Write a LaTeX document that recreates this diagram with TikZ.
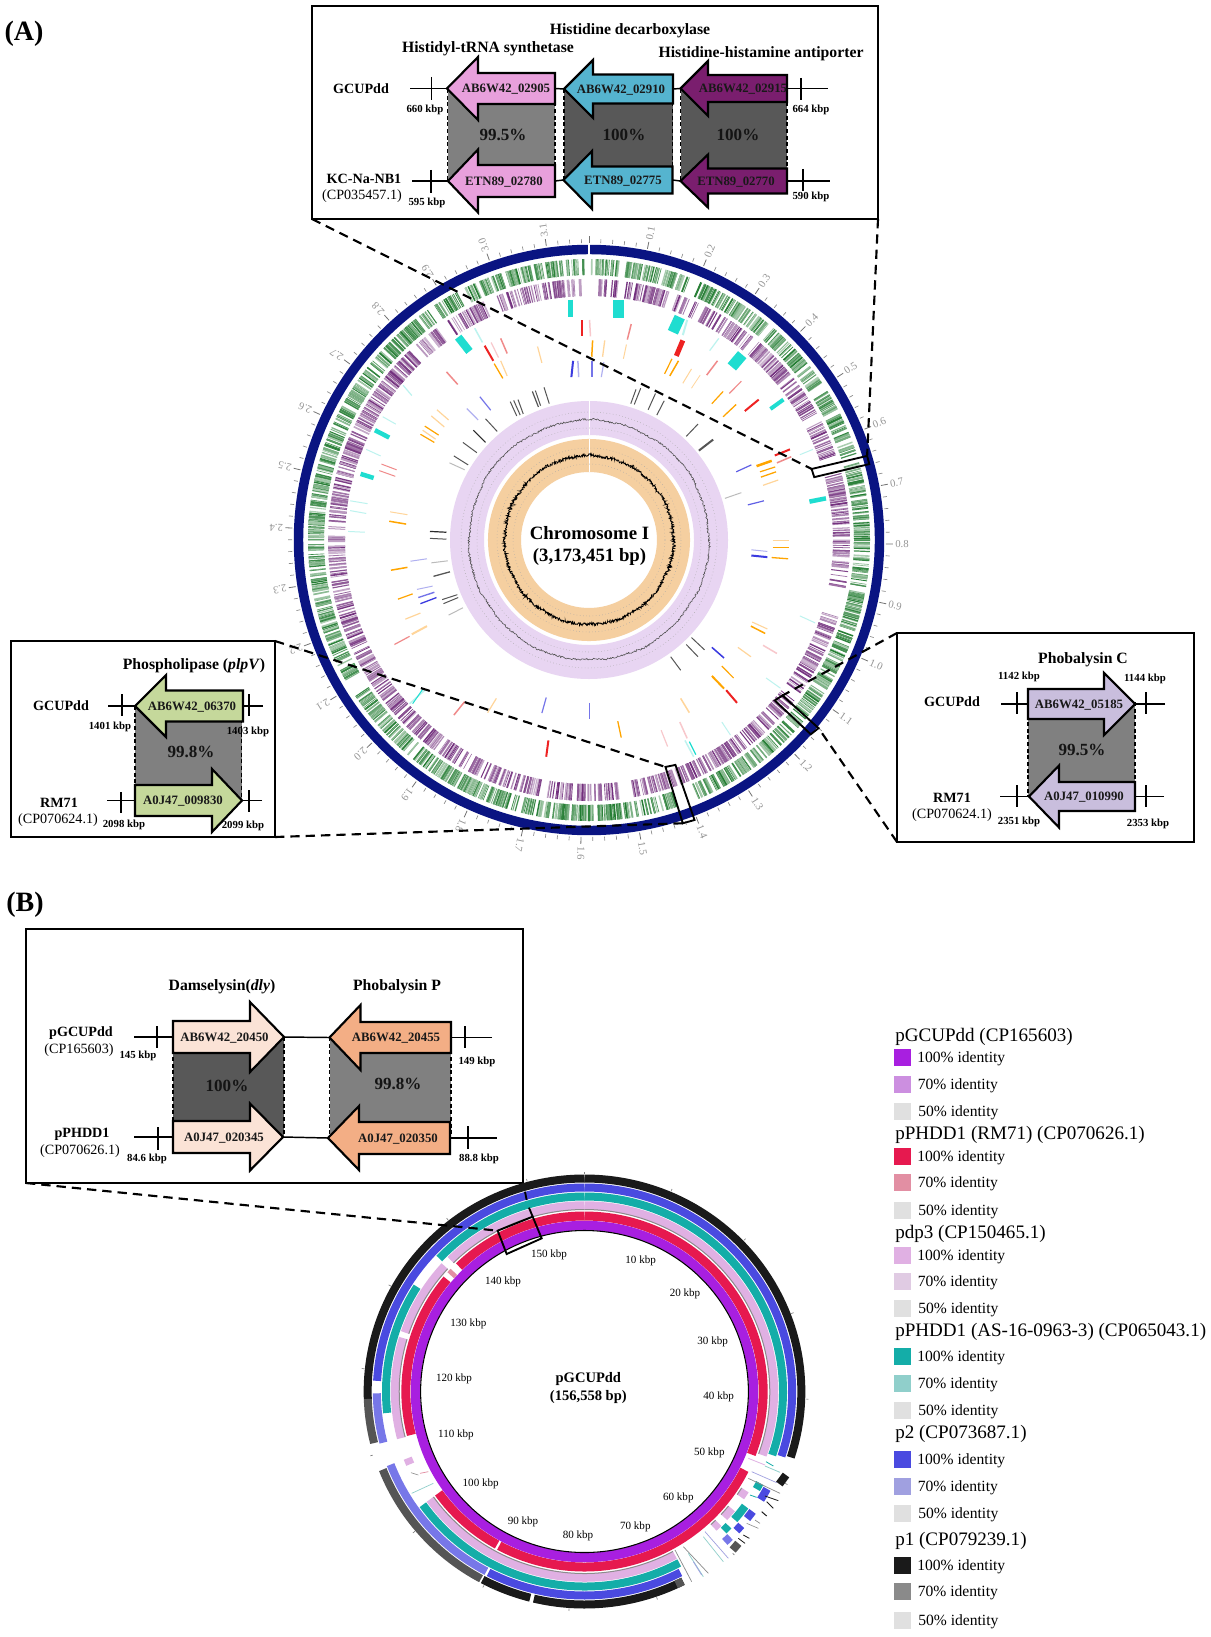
\documentclass[tikz,border=0pt]{standalone}
\usepackage{fontspec}
\setmainfont{Liberation Serif}
\definecolor{navy}{HTML}{0A1482}
\definecolor{gtrk}{HTML}{1F7A2E}
\definecolor{ptrk}{HTML}{6F2A7A}
\definecolor{cyn}{HTML}{1FDDD0}
\definecolor{pcyn}{HTML}{BDF3EF}
\definecolor{rd}{HTML}{EE2222}
\definecolor{prd}{HTML}{F08A8A}
\definecolor{ppk}{HTML}{F8C8CC}
\definecolor{org}{HTML}{FFA500}
\definecolor{porg}{HTML}{FFD59A}
\definecolor{blu}{HTML}{3A3AE0}
\definecolor{pblu}{HTML}{B0B0F0}
\definecolor{gry}{HTML}{555555}
\definecolor{pgry}{HTML}{BBBBBB}
\definecolor{dgry}{HTML}{2A2A2A}
\definecolor{lilac}{HTML}{E8D5F2}
\definecolor{orng}{HTML}{F5CFA0}
\definecolor{gnPink}{HTML}{E8A0DC}
\definecolor{gnBlue}{HTML}{55B4CF}
\definecolor{gnPurp}{HTML}{7A1E6E}
\definecolor{gnGreen}{HTML}{C5D89B}
\definecolor{gnLav}{HTML}{C9BEDD}
\definecolor{gnPeach}{HTML}{FBE3D6}
\definecolor{gnOrange}{HTML}{F3AE85}
\definecolor{shLight}{HTML}{808080}
\definecolor{shDark}{HTML}{585858}
\definecolor{rPurple}{HTML}{A81FE0}
\definecolor{rPurple2}{HTML}{CC8FE0}
\definecolor{rRed}{HTML}{E6194F}
\definecolor{rRed2}{HTML}{E28FA3}
\definecolor{rPink}{HTML}{E0B0E3}
\definecolor{rPink2}{HTML}{E0CBE3}
\definecolor{rTeal}{HTML}{14ADA8}
\definecolor{rTeal2}{HTML}{90CFCB}
\definecolor{rBlue}{HTML}{4A4AE0}
\definecolor{rBlue2}{HTML}{A0A0E0}
\definecolor{rBlack}{HTML}{1A1A1A}
\definecolor{rBlack2}{HTML}{8A8A8A}
\definecolor{rGrey}{HTML}{E0E0E0}
\tikzset{
  ttl/.style={font=\bfseries\fontsize{11.8}{13}\selectfont,inner sep=0pt},
  gl/.style={font=\bfseries\fontsize{9.6}{11}\selectfont,inner sep=0pt,text=black!90},
  kb/.style={font=\bfseries\fontsize{8.1}{9}\selectfont,inner sep=0pt},
  sp/.style={font=\bfseries\fontsize{10.6}{12}\selectfont,inner sep=0pt},
  acc/.style={font=\fontsize{10.6}{12}\selectfont,inner sep=0pt},
  pct/.style={font=\bfseries\fontsize{12.8}{14}\selectfont,inner sep=0pt,text=black!92},
  ibox/.style={draw=black,line width=1.1pt,fill=white,inner sep=0pt,outer sep=0pt},
  bone/.style={draw=black,line width=1.1pt},
  genear/.style={draw=black,line width=1.6pt,line join=miter,miter limit=8},
  leader/.style={draw=black,line width=1.6pt,dash pattern=on 7pt off 4.5pt},
  marker/.style={draw=black,line width=1.4pt},
  leghead/.style={font=\fontsize{14.3}{16}\selectfont,inner sep=0pt,anchor=west},
  legid/.style={font=\fontsize{11.7}{13}\selectfont,inner sep=0pt,anchor=west},
  ringlab/.style={font=\fontsize{8.3}{10}\selectfont,inner sep=0pt},
  mb/.style={font=\fontsize{8}{9}\selectfont,inner sep=0pt,text=black!42}
}
% gene arrow: name, tail x, tip x, head base x, centre y, body half, head half, fill, label x
\newcommand\gene[9]{%
  \coordinate (#1-tail) at (#2,#5);
  \coordinate (#1-tip) at (#3,#5);
  \draw[genear,fill=#8] (#2,#5-#6) -- (#4,#5-#6) -- (#4,#5-#7) -- (#3,#5) -- (#4,#5+#7) -- (#4,#5+#6) -- (#2,#5+#6) -- cycle;
  \node[gl] (#1) at (#9,#5+1) {\genelabel};}
\newcommand\genelabel{}
\newcommand\shadebox[5]{%
  \fill[#5] (#1,#2) rectangle (#3,#4);
  \draw[black,line width=0.9pt,dash pattern=on 3pt off 2pt] (#1,#2) -- (#1,#4) (#3,#2) -- (#3,#4);}
\newcommand\stub[4]{\coordinate (#1) at (#2,#3); \draw[bone] (#1) -- (#4);}
\newcommand\vtick[3]{\draw[bone] (#1,#2) -- (#1,#3);}
\newcommand\arcring[5]{\draw[#3,line width=#2*0.75pt] (#4-90:#1) arc[start angle={#4-90},end angle={#5-90},radius=#1];}
\newcommand\randtrack[5]{% Rin Rout colour density list
  \foreach \s/\e in {#5}{
    \pgfmathtruncatemacro\nn{max(1,(\e-\s)*#4)}
    \foreach \k in {1,...,\nn}{
      \pgfmathsetmacro\aa{\s+rnd*(\e-\s)-90}
      \pgfmathtruncatemacro\pp{35+65*rnd}
      \pgfmathsetmacro\ww{0.4+0.95*rnd}
      \draw[#3!\pp!white,line width=\ww pt] (\aa:#1) -- (\aa:#2);
    }
  }}
\begin{document}
\begin{tikzpicture}[x=0.75pt,y=-0.75pt]
\useasboundingbox (0,0) rectangle (1210,1637);
\fill[white] (0,0) rectangle (1210,1637);
\node[font=\bfseries\fontsize{21}{24}\selectfont,inner sep=0pt] (labA) at (24,33.5) {(A)};
\node[font=\bfseries\fontsize{21}{24}\selectfont,inner sep=0pt] (labB) at (25,905) {(B)};

%% ===== chromosome map =====
\begin{scope}[shift={(589,540)}]
  \pgfmathsetseed{4242}
  % axis ticks and labels
  \foreach \i in {0,...,158}{
    \pgfmathsetmacro\th{\i*0.02*113.44-90}
    \pgfmathtruncatemacro\mj{mod(\i,5)==0}
    \ifnum\mj=1 \draw[black!55,line width=0.6pt] (\th:297) -- (\th:304);
    \else \draw[black!45,line width=0.5pt] (\th:297) -- (\th:301); \fi
  }
  \foreach \m in {1,...,31}{
    \pgfmathsetmacro\th{\m*11.344}
    \pgfmathtruncatemacro\uu{int(\m/10)}
    \pgfmathtruncatemacro\vv{mod(\m,10)}
    \node[mb,rotate={90-\th}] (tl\m) at (\th-90:313) {\uu.\vv};
  }
  \draw[navy,line width=7.1pt] (0,0) circle[radius=290.5];
  \draw[white,line width=1pt] (-90:285) -- (-90:296);
  % gene tracks
  \randtrack{265}{281}{gtrk}{4.4}{337/359,0.3/6.2,7.8/21,23/40,41/56,58/72.5,74/100,100.5/132,133/157,161/194,195/236.5,240/263,263.5/325,326.5/332,333.5/336}
  \randtrack{244}{261}{ptrk}{3.4}{339/358.5,2/6.6,8.3/18.4,19.5/23,24/25,26/39,40.5/61,63/71,75/100.5,107/170,173/250,250.5/325,327/336}
  % inner rings
  \draw[lilac,line width=25.5pt] (0,0) circle[radius=122];
  \draw[orng,line width=24.8pt] (0,0) circle[radius=84.5];
  \draw[white,line width=0.7pt] (-90:105) -- (-90:139) (-90:68) -- (-90:101);
  \foreach \r in {112,120,128}{\draw[black!35,line width=0.4pt,dotted] (0,0) circle[radius=\r];}
  \foreach \r in {76,84,92}{\draw[black!35,line width=0.4pt,dotted] (0,0) circle[radius=\r];}
  \pgfmathsetseed{77}
  \draw[black!70,line width=0.4pt] plot[domain=0:360,samples=800,variable=\t] (\t:{120+1.0*rand+0.5*sin(7*\t)+0.4*sin(19*\t)}) -- cycle;
  \draw[black,line width=0.55pt] plot[domain=0:360,samples=1100,variable=\t] (\t:{84.5+1.5*rand+0.3*sin(11*\t)+0.3*sin(23*\t)}) -- cycle;
\end{scope}

%% discrete features, in crop coordinates
\begin{scope}[shift={(260,220)},x=0.32524pt,y=-0.30612pt]
  \foreach \a/\b/\cc/\d/\w/\col in {
    717/195/717/237/5/cyn, 827/197/827/240/11/cyn, 968/238/952/275/11/cyn, 1112/330/1088/360/11/cyn,
    1207/440/1177/463/4/cyn, 1305/682/1267/690/4.5/cyn, 232/622/262/632/4.5/cyn, 265/515/298/533/4.5/cyn, 457/287/483/322/8/cyn,
    495/265/513/300/1.5/pcyn, 350/430/330/405/1.2/pcyn, 283/482/313/500/1/pcyn, 245/562/278/578/1/pcyn, 208/688/248/695/1/pcyn,
    208/712/245/719/1/pcyn, 203/763/242/765/1/pcyn, 1058/290/1037/320/1.2/pcyn, 985/245/975/282/2/pcyn, 1245/970/1280/987/1/pcyn,
    1167/1122/1200/1147/1/pcyn, 1065/1230/1085/1262/1/pcyn, 980/1275/1000/1315/1.5/pcyn, 990/1278/1005/1310/1.2/cyn,
    345/1185/380/1152/1.5/pcyn, 352/1185/375/1150/1/cyn, 1245/575/1275/562/1/pcyn,
    743/245/743/285/2/rd, 760/245/762/285/1.5/ppk, 856/255/847/293/1.5/prd, 975/295/960/333/5/rd, 555/290/570/327/1.5/prd,
    533/300/550/337/1.2/ppk, 518/308/538/345/2/rd, 430/372/456/403/1.5/prd, 1055/345/1030/380/1.5/prd, 1110/395/1082/425/1.2/prd,
    1150/440/1118/468/2/rd, 280/598/315/612/1/prd, 275/614/312/628/1/prd, 1222/562/1187/577/2/rd, 1225/580/1192/595/1.5/prd,
    1160/1042/1192/1062/1.5/ppk, 1075/1152/1100/1183/2/rd, 968/1230/985/1270/1.5/ppk, 925/1250/940/1290/1.2/ppk, 665/1275/660/1315/2/rd,
    472/1180/447/1213/1.5/prd, 345/1020/310/1040/1.2/prd,
    767/295/765/335/1.5/org, 795/295/790/335/1.3/porg, 845/305/838/340/1/porg, 640/310/650/350/1.2/porg, 950/340/933/377/1.2/org,
    965/345/945/382/1.5/org, 995/365/975/400/1/porg, 1015/380/995/412/0.8/porg, 1068/420/1042/450/1.2/org, 1098/452/1068/482/1.3/org,
    555/345/570/382/1.2/porg, 540/352/560/388/1.3/org, 408/465/435/490/1.2/porg, 395/480/425/507/1.2/porg, 380/505/412/527/1.2/org,
    375/515/405/537/1.2/porg, 370/525/402/545/1.2/org, 300/715/340/722/1/porg, 298/738/337/745/1.5/org, 1180/590/1145/603/2.5/org,
    1188/605/1153/617/1.2/org, 1190/617/1155/630/1.3/org, 1195/637/1160/650/1.2/porg, 1182/786/1220/786/1.2/porg, 1182/803/1220/803/1.3/org,
    1180/827/1218/830/1.3/org, 302/858/340/851/1.5/org, 318/929/352/916/1.2/org, 335/978/370/963/1.2/porg, 350/1015/385/995/2/porg,
    1135/985/1170/1002/1.1/porg, 1132/995/1165/1013/1.5/org, 1102/1047/1132/1070/1.2/porg, 1065/1093/1092/1122/1.2/org, 1042/1117/1070/1148/2/org,
    970/1172/990/1207/1.5/porg, 825/1228/833/1268/1.3/org, 545/1172/525/1207/1.2/porg,
    722/345/718/385/2/blu, 733/345/735/385/1.5/pblu, 765/345/765/385/1.5/blu!70!white, 793/348/787/385/1.2/pblu, 507/433/532/466/1.2/blu!70!white,
    477/462/503/490/1.2/pblu, 1133/600/1098/617/1.2/blu!80!white, 1162/688/1125/698/1.2/blu!80!white, 1133/808/1170/812/1/pblu, 1133/822/1170/826/2/blu,
    347/836/385/830/1/pblu, 362/905/398/897/1/pblu, 365/925/402/912/1.4/blu!70!white, 370/940/407/925/1.3/blu, 1042/1047/1070/1073/1.5/blu,
    660/1170/650/1208/1.2/blu!70!white, 760/1183/760/1222/1.2/blu!70!white,
    577/445/592/480/1/gry, 585/442/600/478/1/gry, 595/440/607/475/1/gry, 628/420/642/458/1.2/gry, 635/418/647/455/1/gry, 655/410/667/450/1/gry,
    878/412/863/452/1/gry, 867/415/855/450/1/gry, 912/425/895/465/1/gry, 932/443/915/478/1/gry, 1010/500/983/530/1/gry, 1045/538/1012/565/2/gry,
    1110/668/1072/682/1/pgry, 492/515/520/545/1.1/dgry, 520/487/547/518/1/gry, 468/545/500/570/1/gry, 447/578/480/600/1/gry, 437/595/472/612/1/pgry,
    392/763/430/765/1.2/dgry, 392/780/430/782/1/gry, 395/840/433/835/1/pgry, 400/873/438/862/1.3/gry, 420/930/455/918/1/gry, 423/940/457/925/1/gry,
    435/968/468/950/1/pgry, 995/1023/1025/1053/1/gry, 983/1040/1010/1070/1/gry, 947/1070/970/1103/1/gry}
    {\draw[\col,line width=\w*0.75pt] (\a,\b) -- (\cc,\d);}
  \coordinate (ra1) at (1272,610); \coordinate (ra2) at (1400,578); \coordinate (ra3) at (1405,598); \coordinate (ra4) at (1278,630);
  \coordinate (rb1) at (1187,1177); \coordinate (rb2) at (1205,1165); \coordinate (rb3) at (1288,1245); \coordinate (rb4) at (1270,1260);
  \coordinate (rc1) at (935,1340); \coordinate (rc2) at (958,1335); \coordinate (rc3) at (1002,1470); \coordinate (rc4) at (975,1478);
  \draw[marker] (ra1) -- (ra2) -- (ra3) -- (ra4) -- cycle;
  \draw[marker] (rb1) -- (rb2) -- (rb3) -- (rb4) -- cycle;
  \draw[marker] (rc1) -- (rc2) -- (rc3) -- (rc4) -- cycle;
\end{scope}
\node[font=\bfseries\fontsize{14.1}{16}\selectfont,inner sep=0pt] (chrA) at (589.5,533) {Chromosome I};
\node[font=\bfseries\fontsize{14.1}{16}\selectfont,inner sep=0pt] (chrB) at (589.5,557) {(3,173,451 bp)};

%% ===== inset boxes =====
\node[ibox,minimum width=424.5pt,minimum height=159.75pt] (boxA) at (595,112.5) {};
\node[ibox,minimum width=198pt,minimum height=147pt] (boxL) at (143,739) {};
\node[ibox,minimum width=222.75pt,minimum height=156.75pt] (boxR) at (1045.5,737.5) {};
\node[ibox,minimum width=372.75pt,minimum height=190.5pt] (boxB) at (274.5,1056) {};
\draw[leader] (boxA.south west) -- (ra1);
\draw[leader] (boxA.south east) -- (ra2);
\draw[leader] (boxR.north west) -- (rb2);
\draw[leader] (boxR.south west) -- (rb3);
\draw[leader] (boxL.north east) -- (rc1);
\draw[leader] (boxL.south east) -- (rc4);

%% --- box A ---
\node[ttl] (tA1) at (630,31) {Histidine decarboxylase};
\node[ttl] (tA2) at (488,49) {Histidyl-tRNA synthetase};
\node[ttl] (tA3) at (761,54) {Histidine-histamine antiporter};
\shadebox{447.5}{89}{555}{181}{shLight}
\shadebox{564}{89}{672.5}{181}{shDark}
\shadebox{680.5}{89}{787}{181}{shDark}
\renewcommand\genelabel{AB6W42\_02905}\gene{a1}{555}{447}{478}{88.5}{15.5}{31.5}{gnPink}{506}
\renewcommand\genelabel{AB6W42\_02910}\gene{a2}{673}{564}{593}{89}{14.5}{29}{gnBlue}{621}
\renewcommand\genelabel{AB6W42\_02915}\gene{a3}{787}{680.5}{708}{88.5}{13.5}{27.5}{gnPurp}{743}
\renewcommand\genelabel{ETN89\_02780}\gene{b1}{555}{448}{478}{181}{16}{31.5}{gnPink}{504}
\renewcommand\genelabel{ETN89\_02775}\gene{b2}{672.5}{563.5}{592}{180}{13.5}{29}{gnBlue}{623}
\renewcommand\genelabel{ETN89\_02770}\gene{b3}{787}{680.5}{708}{181}{12.5}{26.5}{gnPurp}{736}
\stub{a1L}{410}{88.5}{a1-tip}
\draw[bone] (a1-tail) -- (a2-tip);
\draw[bone] (a2-tail) -- (a3-tip);
\stub{a3R}{827.5}{88.5}{a3-tail}
\stub{b1L}{412}{181}{b1-tip}
\draw[bone] (b1-tail) -- (b2-tip);
\draw[bone] (b2-tail) -- (b3-tip);
\stub{b3R}{829.5}{181}{b3-tail}
\vtick{431.5}{77}{100}\vtick{801}{78}{100}\vtick{431}{170}{193}\vtick{803}{169}{191}
\node[pct] (pA1) at (503,135) {99.5\%};
\node[pct] (pA2) at (624,135) {100\%};
\node[pct] (pA3) at (738,135) {100\%};
\node[sp] (sA1) at (361,89) {GCUPdd};
\node[sp] (sA2) at (364,179) {KC-Na-NB1};
\node[acc] (sA3) at (362,196) {(CP035457.1)};
\node[kb] (kA1) at (425,110) {660 kbp};
\node[kb] (kA2) at (427,203) {595 kbp};
\node[kb] (kA3) at (811,110) {664 kbp};
\node[kb] (kA4) at (811,197) {590 kbp};

%% --- box L ---
\node[ttl] (tL) at (194,666) {Phospholipase (\textit{plpV})};
\shadebox{135}{706}{241.5}{800}{shLight}
\renewcommand\genelabel{AB6W42\_06370}\gene{l1}{243}{135}{166}{706}{15.5}{31}{gnGreen}{192}
\renewcommand\genelabel{A0J47\_009830}\gene{l2}{135}{242}{212}{800.5}{15.5}{31.5}{gnGreen}{183}
\stub{l1L}{108}{706}{l1-tip}
\stub{l1R}{263}{706}{l1-tail}
\stub{l2L}{107}{800.5}{l2-tail}
\stub{l2R}{262}{800.5}{l2-tip}
\vtick{122}{694}{716}\vtick{249}{694}{716}\vtick{121}{792}{813}\vtick{249}{790}{812}
\node[pct] (pL) at (191,752) {99.8\%};
\node[sp] (sL1) at (61,706) {GCUPdd};
\node[sp] (sL2) at (59,803) {RM71};
\node[acc] (sL3) at (58,820) {(CP070624.1)};
\node[kb] (kL1) at (110,727) {1401 kbp};
\node[kb] (kL2) at (248,732) {1403 kbp};
\node[kb] (kL3) at (124,825) {2098 kbp};
\node[kb] (kL4) at (243,826) {2099 kbp};

%% --- box R ---
\node[ttl] (tR) at (1083,659.5) {Phobalysin C};
\shadebox{1028}{702}{1135}{796}{shLight}
\renewcommand\genelabel{AB6W42\_05185}\gene{r1}{1028}{1135}{1104}{704}{15}{31}{gnLav}{1079}
\renewcommand\genelabel{A0J47\_010990}\gene{r2}{1135}{1029}{1059}{796.5}{14.5}{31}{gnLav}{1084}
\stub{r1L}{1001}{704}{r1-tail}
\stub{r1R}{1165}{704}{r1-tip}
\stub{r2L}{1000}{796.5}{r2-tip}
\stub{r2R}{1164}{796.5}{r2-tail}
\vtick{1017}{692}{714}\vtick{1146}{692}{714}\vtick{1017}{785}{807}\vtick{1146}{785}{807}
\node[pct] (pR) at (1082,750) {99.5\%};
\node[sp] (sR1) at (952,702) {GCUPdd};
\node[sp] (sR2) at (952,798) {RM71};
\node[acc] (sR3) at (952,815) {(CP070624.1)};
\node[kb] (kR1) at (1019,677) {1142 kbp};
\node[kb] (kR2) at (1145,679) {1144 kbp};
\node[kb] (kR3) at (1019,822) {2351 kbp};
\node[kb] (kR4) at (1148,824) {2353 kbp};

%% --- box B ---
\node[ttl] (tB1) at (222,987) {Damselysin(\textit{dly})};
\node[ttl] (tB2) at (397,987) {Phobalysin P};
\shadebox{173}{1037}{284}{1137}{shDark}
\shadebox{329.5}{1037}{451}{1137}{shLight}
\renewcommand\genelabel{AB6W42\_20450}\gene{p1}{173}{284}{250}{1037}{16}{35}{gnPeach}{224.5}
\renewcommand\genelabel{A0J47\_020345}\gene{p2}{173}{283}{250}{1137}{16}{33.5}{gnPeach}{224}
\renewcommand\genelabel{AB6W42\_20455}\gene{p3}{451}{329.5}{360.5}{1037.5}{15.5}{32.5}{gnOrange}{396}
\renewcommand\genelabel{A0J47\_020350}\gene{p4}{450}{328}{359}{1138}{16}{32}{gnOrange}{398}
\stub{p1L}{134}{1037}{p1-tail}
\draw[bone] (p1-tip) -- (p3-tip);
\stub{p3R}{492}{1037.5}{p3-tail}
\stub{p2L}{134}{1137}{p2-tail}
\draw[bone] (p2-tip) -- (p4-tip);
\stub{p4R}{496.5}{1138}{p4-tail}
\vtick{157}{1026}{1048}\vtick{465}{1026}{1048}\vtick{158}{1127}{1150}\vtick{468}{1126}{1149}
\node[pct] (pB1) at (227,1086) {100\%};
\node[pct] (pB2) at (398,1084) {99.8\%};
\node[sp] (sB1) at (81,1033) {pGCUPdd};
\node[acc] (sB2) at (79,1050) {(CP165603)};
\node[sp] (sB3) at (82,1134) {pPHDD1};
\node[acc] (sB4) at (80,1151) {(CP070626.1)};
\node[kb] (kB1) at (138,1056) {145 kbp};
\node[kb] (kB2) at (477,1062) {149 kbp};
\node[kb] (kB3) at (147,1159) {84.6 kbp};
\node[kb] (kB4) at (479,1159) {88.8 kbp};

%% ===== plasmid map =====
\begin{scope}[shift={(584.5,1391.5)},x=0.7635pt,y=-0.75pt]
  \foreach \f/\t in {0/108,153/154.5,154.5/193.5,194.5/208,268/360}{\arcring{213}{8}{rBlack}{\f}{\t}}
  \foreach \f/\t in {208.5/248.5,256/268}{\arcring{213}{8}{gry}{\f}{\t}}
  \arcring{213}{8}{gry}{153}{155}
  \foreach \f/\t in {0/108.5,118.5/122,126/128.5,131/133,152.5/207.5,273/360}{\arcring{204}{8}{rBlue}{\f}{\t}}
  \foreach \f/\t in {135.5/137.5,208.2/249,255.5/269.5}{\arcring{204}{8}{rBlue!75!white}{\f}{\t}}
  \foreach \f/\t in {0/109,118/120,126/131,133.5/135.5,151.5/234.5,263.7/302.5,313/360}{\arcring{195}{8}{rTeal}{\f}{\t}}
  \foreach \f/\t in {0/110,122/124.5,129/132.5,135/137,151.5/234.6,255.5/286.7,288.5/312.4,315/360}{\arcring{186}{8.5}{rPink}{\f}{\t}\arcring{182}{1}{black!45}{\f}{\t}}
  \arcring{186}{8.5}{rPink}{247}{249}
  \foreach \f/\t in {0/111,116.5/208.5,209.3/234.7,255.7/309.7,315.4/360}{\arcring{175.5}{9}{rRed}{\f}{\t}}
  \arcring{175.5}{9}{rRed2}{311.5}{313}
  \draw[rPurple,line width=7.1pt] (0,0) circle[radius=166];
  \draw[black,line width=0.8pt] (0,0) circle[radius=161];
  \foreach \i in {0,...,15}{\pgfmathsetmacro\th{\i*23-90}\draw[black!50,line width=0.5pt] (\th:217.5) -- (\th:220);}
\end{scope}
\begin{scope}[shift={(330,1160)},x=0.25pt,y=-0.25pt]
  \foreach \a/\b/\cc/\d/\w/\col in {
    1255/895/1305/915/0.8/rPink, 1308/905/1330/918/0.8/rTeal, 1305/918/1350/937/0.8/rTeal2, 1265/935/1340/968/0.7/rBlue2, 1255/955/1350/1000/0.7/rBlack2,
    1348/972/1368/945/8/rBlack, 1260/1005/1280/1012/0.8/rTeal, 1305/1008/1345/1022/0.8/rBlack, 1310/1025/1330/1045/0.8/rBlack, 1295/1055/1310/1068/1/rBlack,
    1275/1080/1290/1090/0.7/rBlack2, 1250/1090/1285/1105/0.6/rBlack2, 1240/1125/1258/1135/0.8/rBlack, 1225/1135/1245/1150/0.8/rBlack, 1208/1170/1225/1150/8/gry,
    1125/1115/1195/1195/0.7/rBlue2, 1120/1130/1180/1205/0.7/rTeal2, 1060/1160/1135/1240/0.7/rBlack2, 1075/1180/1120/1250/0.8/rTeal2, 1035/1170/1085/1265/0.7/rBlack2,
    1090/1205/1115/1245/0.8/rBlue2, 245/1000/310/970/0.7/rTeal2, 270/940/295/935/0.7/rRed2, 243/938/265/945/0.6/rBlack2}
    {\draw[\col,line width=\w*0.75pt] (\a,\b) -- (\cc,\d);}
  \foreach \n/\xx/\yy/\tx in {q150/657/285/150,q10/932/301/10,q20/1065/402/20,q30/1148/545/30,q40/1166/709/40,q50/1138/879/50,q60/1045/1014/60,q70/916/1101/70,q80/744/1126/80,q90/579/1084/90,q100/452/972/100,q110/378/825/110,q120/372/655/120,q130/415/490/130,q140/519/364/140}
    {\node[ringlab] (\n) at (\xx,\yy) {\tx{} kbp};}
  \node[font=\bfseries\fontsize{10.9}{13}\selectfont,inner sep=0pt] (plA) at (775,657) {pGCUPdd};
  \node[font=\bfseries\fontsize{10.9}{13}\selectfont,inner sep=0pt] (plB) at (775,711) {(156,558 bp)};
  \coordinate (rp1) at (503,212); \coordinate (rp2) at (608,170); \coordinate (rp3) at (635,235); \coordinate (rp4) at (530,282);
  \coordinate (rp5) at (597,143); \coordinate (rp6) at (585,95); \coordinate (rp7) at (590,120);
  \draw[marker] (rp1) -- (rp2) -- (rp3) -- (rp4) -- cycle;
  \draw[marker] (rp5) -- (rp2);
  \draw[marker] (rp6) -- (rp7);
\end{scope}
\draw[leader] (boxB.south west) -- (rp1);

%% ===== legend =====
\foreach \n/\y/\tx in {h1/1037/pGCUPdd (CP165603),h2/1135/pPHDD1 (RM71) (CP070626.1),h3/1234/pdp3 (CP150465.1),h4/1332/pPHDD1 (AS-16-0963-3) (CP065043.1),h5/1434/p2 (CP073687.1),h6/1541/p1 (CP079239.1)}
  {\node[leghead] (\n) at (895,\y) {\tx};}
\foreach \n/\y/\ca/\cb/\ya/\yb in {a/1057/rPurple/rPurple2/1084/1111,b/1156/rRed/rRed2/1182/1210,c/1255/rPink/rPink2/1281/1308,d/1356/rTeal/rTeal2/1383/1410,e/1459/rBlue/rBlue2/1486/1513,f/1565/rBlack/rBlack2/1591/1620}{
  \fill[\ca] (894,\y-8.5) rectangle (911,\y+8.5);
  \fill[\cb] (894,\ya-8.5) rectangle (911,\ya+8.5);
  \fill[rGrey] (894,\yb-8.5) rectangle (911,\yb+8.5);
  \node[legid] (id\n1) at (917,\y+1.5) {100\% identity};
  \node[legid] (id\n2) at (917.5,\ya+1.5) {70\% identity};
  \node[legid] (id\n3) at (918,\yb+1.5) {50\% identity};
}
\end{tikzpicture}
\end{document}
